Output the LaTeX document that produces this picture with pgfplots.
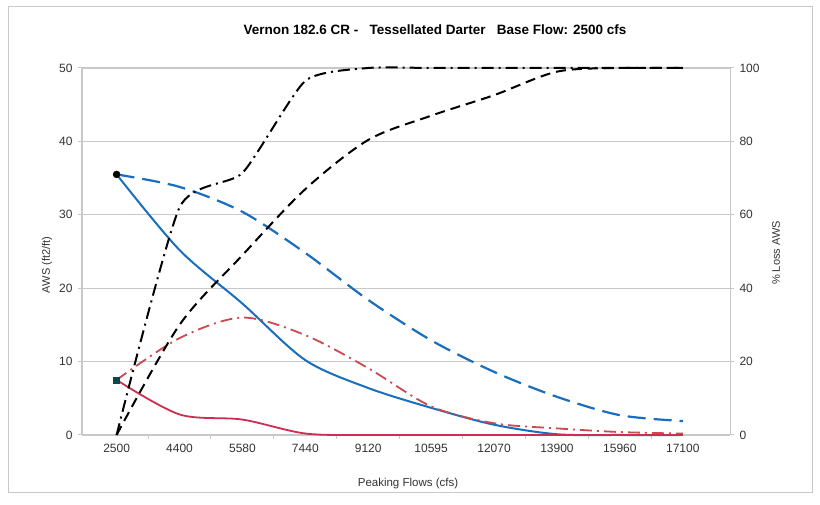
\documentclass[border=0pt]{standalone}
\usepackage{pgfplots}
\pgfplotsset{compat=1.18}
\usepackage{fontspec}
\setmainfont{Liberation Sans}
\definecolor{ablue}{RGB}{25,110,190}
\definecolor{ared}{RGB}{205,45,80}
\definecolor{ared2}{RGB}{200,75,80}
\definecolor{agrid}{RGB}{200,200,200}
\begin{document}
\begin{tikzpicture}[x=1pt,y=1pt]
\path[use as bounding box,fill=white] (0,0) rectangle (820,505);
\draw[color=agrid,line width=1pt] (8,12) rectangle (812,498);
\begin{axis}[
  at={(82pt,70pt)}, anchor=south west,
  width=648pt, height=367pt, scale only axis,
  xmin=-0.55, xmax=9.75, ymin=0, ymax=50,
  xtick={0,...,9},
  xticklabels={2500,4400,5580,7440,9120,10595,12070,13900,15960,17100},
  xtick style={draw=none},
  extra x ticks={0.5,1.5,2.5,3.5,4.5,5.5,6.5,7.5,8.5},
  extra x tick labels={},
  extra x tick style={xtick style={draw=agrid,line width=1pt}},
  ytick={0,10,20,30,40,50},
  ytick style={draw=agrid,line width=1pt},
  tick align=outside, major tick length=4pt,
  ymajorgrids, grid style={agrid,line width=0.8pt},
  extra x tick style={grid=none},
  axis line style={agrid,line width=1pt},
  axis y line*=left, axis x line*=bottom,
  x tick label style={yshift=-2pt},
  y tick label style={xshift=-2pt},
  tick label style={font=\fontsize{12}{14}\selectfont, color=black!80},
  /pgf/number format/assume math mode=true,
  clip=false,
]
\addplot[ablue, line width=2pt, smooth, tension=0.5] coordinates {
 (0,35.5) (1,25.2) (2,17.9) (3,10.2) (4,6.4) (5,3.7) (6,1.4) (7,0.1) (8,0) (9,0)};
\addplot[ablue, line width=2.2pt, smooth, tension=0.5, dash pattern=on 18pt off 8pt] coordinates {
 (0,35.5) (1,33.8) (2,30.4) (3,24.8) (4,18.4) (5,12.9) (6,8.6) (7,5.2) (8,2.7) (9,1.9)};
\addplot[ared2, line width=1.8pt, smooth, tension=0.5, dash pattern=on 12pt off 5pt on 2pt off 5pt] coordinates {
 (0,7.5) (1,13.2) (2,16) (3,13.6) (4,9.1) (5,3.9) (6,1.6) (7,0.9) (8,0.4) (9,0.2)};
\addplot[ared, line width=1.8pt, smooth, tension=0.5] coordinates {
 (0,7.5) (1,2.8) (2,2.1) (3,0.2) (4,0) (5,0) (6,0) (7,0) (8,0) (9,0)};
\addplot[only marks, mark=*, mark size=3.5pt, black] coordinates {(0,35.5)};
\addplot[only marks, mark=square*, mark size=3pt, fill=teal!60!black, draw=teal!60!black] coordinates {(0,7.5)};
\end{axis}
\begin{axis}[
  at={(82pt,70pt)}, anchor=south west,
  width=648pt, height=367pt, scale only axis,
  xmin=-0.55, xmax=9.75, ymin=0, ymax=100,
  ytick={0,20,40,60,80,100},
  axis y line*=right, axis x line*=top,
  xtick=\empty,
  axis line style={agrid,line width=1pt},
  ytick style={draw=agrid,line width=1pt},
  tick align=outside, major tick length=4pt,
  y tick label style={xshift=2pt},
  tick label style={font=\fontsize{12}{14}\selectfont, color=black!80},
  /pgf/number format/assume math mode=true,
  clip=false,
]
\addplot[black, line width=2pt, smooth, tension=0.35, dash pattern=on 12pt off 5pt on 2pt off 5pt] coordinates {
 (0,0) (1,62) (2,71.4) (3,96.5) (4,100) (5,100) (6,100) (7,100) (8,100) (9,100)};
\addplot[black, line width=2pt, smooth, tension=0.5, dash pattern=on 10pt off 6pt] coordinates {
 (0,0) (1,30) (2,49) (3,67) (4,80.4) (5,87) (6,92.6) (7,99) (8,100) (9,100)};
\end{axis}
\node[font=\bfseries\fontsize{13.5}{16}\selectfont] at (435,475) {Vernon 182.6 CR -\ \ \ Tessellated Darter\ \ \ Base Flow: 2500 cfs};
\node[rotate=90,font=\fontsize{11}{13}\selectfont,color=black!80] at (47,240) {AWS (ft2/ft)};
\node[rotate=90,font=\fontsize{11}{13}\selectfont,color=black!80] at (776,252) {\% Loss AWS};
\node[font=\fontsize{11.5}{13}\selectfont,color=black!80] at (408,21) {Peaking Flows (cfs)};
\end{tikzpicture}
\end{document}
